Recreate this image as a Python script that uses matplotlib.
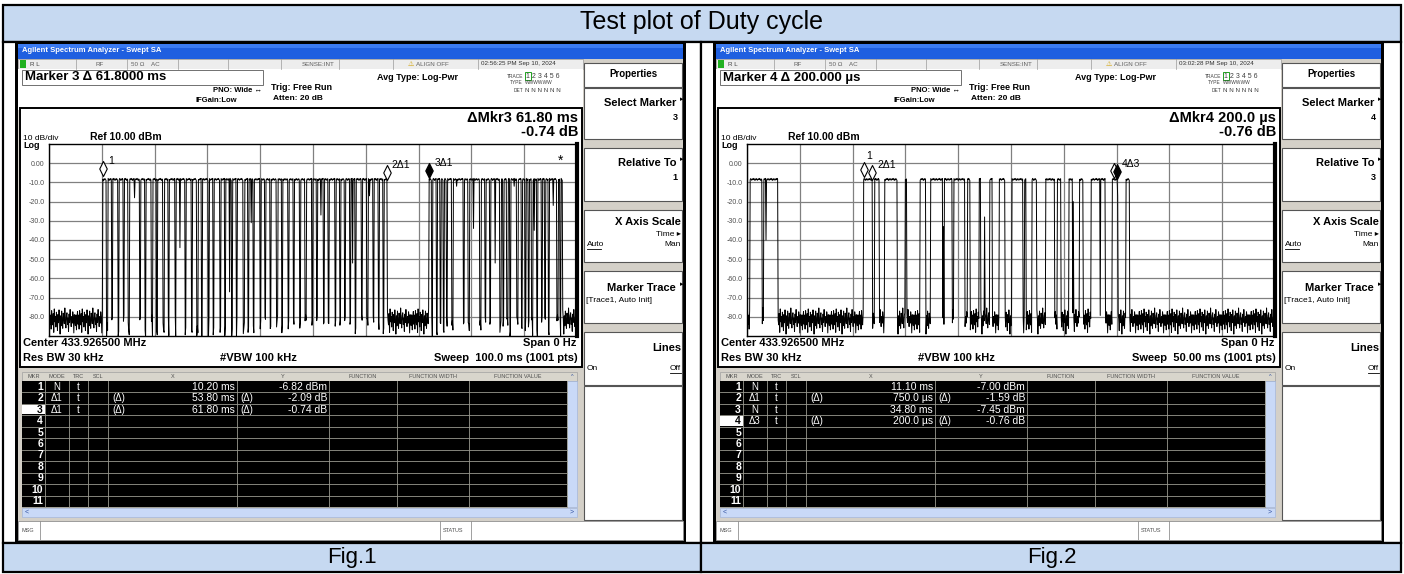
import numpy as np
import matplotlib.pyplot as plt
from matplotlib.patches import Rectangle
from matplotlib.path import Path

plt.rcParams['font.family'] = ['Liberation Sans', 'DejaVu Sans']

W, H = 1404, 574
N_PTS = 1001

# noise floor / pulse top values (dBm), reused along the sweep
noise_db = [-80.5, -77.2, -83.9, -79.1, -86.4, -76.8, -81.7, -84.2, -78.3, -88.1,
            -75.9, -82.6, -79.8, -85.3, -77.6, -80.9, -87.2, -78.8, -83.1, -76.4,
            -81.2, -89.0, -79.5, -84.7, -77.0, -82.1, -86.0, -78.1, -80.2, -83.6,
            -75.4, -81.9, -85.8, -79.3, -77.9, -84.0, -80.7, -87.6, -78.6, -82.9,
            -76.2, -81.4, -85.1, -79.9, -83.3, -77.4, -80.1, -88.4, -78.9, -82.3, -84.6, -79.0, -86.8]
top_db = [-8.1, -8.6, -7.9, -8.4, -9.0, -8.2, -8.7, -8.0, -8.5, -8.9, -8.3]

# Fig.1 : sweep 100 ms
fig1_sweep = 100.0
fig1_highs = [(10.2, 64.0), (72.0, 97.2)]
fig1_dips_thin = [11.9, 13.1, 14.1, 17.2, 18.2, 20.4, 22.6, 23.9,
                  25.8, 27.0, 28.9, 30.2, 31.1, 32.4, 33.3, 34.6, 35.5, 37.7,
                  38.7, 40.0, 40.9, 41.9, 44.1, 45.3, 46.3, 47.5, 49.8, 50.7,
                  52.0, 52.9, 54.2, 55.1, 56.0, 57.0, 58.0, 59.2, 61.4, 62.4, 63.3,
                  72.5, 73.4, 74.1, 74.7, 75.3, 78.5, 82.6, 83.5,
                  86.0, 87.3, 89.5, 90.2, 90.8, 92.4, 93.3, 93.9, 94.6, 96.8]
fig1_dips_thick = [10.9, 15.0, 19.4, 21.6, 28.0, 36.8, 43.1, 48.5, 60.2,
                   76.3, 79.4, 81.6, 85.4, 86.7, 88.6, 91.4, 96.2]
fig1_partial = [(16.2, -18.0), (24.8, -44.0), (34.2, -67.0), (38.3, -31.0), (51.5, -27.0),
                (57.5, -52.0), (60.7, -17.0), (77.2, -12.0), (80.4, -34.0), (84.5, -52.0),
                (88.1, -12.0), (91.9, -35.0), (95.5, -22.0)]
fig1_mk_t = [10.2, 64.0, 72.0]
fig1_mk_db = [-6.82, -8.91, -7.56]
fig1_mk_lbl = ['1', '2Δ1', '3Δ1']
fig1_mk_fill = [False, False, True]
fig1_rows = [('1', 'N', '', '10.20 ms', '', '-6.82 dBm'),
             ('2', 'Δ1', '(Δ)', '53.80 ms', '(Δ)', '-2.09 dB'),
             ('3', 'Δ1', '(Δ)', '61.80 ms', '(Δ)', '-0.74 dB')]

# Fig.2 : sweep 50 ms
fig2_sweep = 50.0
fig2_highs = [(0.3, 1.4), (1.6, 2.9), (11.05, 11.85), (12.1, 12.5), (13.05, 14.2),
              (15.0, 15.1), (16.4, 16.9), (17.4, 18.5), (18.7, 19.4), (19.6, 20.6),
              (20.9, 21.1), (22.0, 22.1), (23.0, 23.2), (23.9, 24.4), (25.1, 26.1),
              (26.3, 26.4), (27.0, 27.4), (28.3, 29.1), (29.4, 29.7), (30.5, 30.8),
              (31.5, 31.8), (32.6, 33.4), (33.5, 33.9), (34.6, 35.05), (35.9, 36.2)]
fig2_partial = [(1.8, -40.0), (18.6, -33.0), (22.5, -28.0), (30.9, -20.0), (35.1, -17.0)]
fig2_mk_t = [11.10, 11.85, 34.80, 35.00]
fig2_mk_db = [-7.00, -8.59, -7.45, -8.21]
fig2_mk_lbl = ['1', '2Δ1', '', '4Δ3']
fig2_mk_fill = [False, False, False, True]
fig2_rows = [('1', 'N', '', '11.10 ms', '', '-7.00 dBm'),
             ('2', 'Δ1', '(Δ)', '750.0 µs', '(Δ)', '-1.59 dB'),
             ('3', 'N', '', '34.80 ms', '', '-7.45 dBm'),
             ('4', 'Δ3', '(Δ)', '200.0 µs', '(Δ)', '-0.76 dB')]

ytick_vals = [0, -10, -20, -30, -40, -50, -60, -70, -80]
ytick_lbls = ['0.00', '-10.0', '-20.0', '-30.0', '-40.0', '-50.0', '-60.0', '-70.0', '-80.0']
tbl_cols = [22, 45, 69, 88, 108, 237, 329, 397, 469, 567, 577]
tbl_head = ['MKR', 'MODE', 'TRC', 'SCL', 'X', 'Y', 'FUNCTION', 'FUNCTION WIDTH', 'FUNCTION VALUE']


def make_trace(sweep, highs, dips_thin, dips_thick, partial):
    t = np.linspace(0, sweep, N_PTS)
    y = np.array([noise_db[i % len(noise_db)] for i in range(N_PTS)])
    for a, b in highs:
        for i in np.where((t >= a - 1e-9) & (t <= b + 1e-9))[0]:
            y[i] = top_db[i % len(top_db)]
    for dl, n in ((dips_thin, 2), (dips_thick, 3)):
        for d in dl:
            i0 = int(round(d / sweep * (N_PTS - 1)))
            for i in range(i0, i0 + n):
                y[i] = noise_db[(i * 7) % len(noise_db)] - 3
    for d, lvl in partial:
        y[int(round(d / sweep * (N_PTS - 1)))] = lvl
    return t, y


fig = plt.figure(figsize=(W / 100, H / 100), dpi=100)
bg = fig.add_axes([0, 0, 1, 1])
bg.set_xlim(0, W)
bg.set_ylim(H, 0)
bg.axis('off')


def rect(x, y, w, h, fc='white', ec='none', lw=0.8, z=1):
    bg.add_patch(Rectangle((x, y), w, h, fc=fc, ec=ec, lw=lw, zorder=z))


def tx(x, y, s, size=7, bold=False, ha='left', color='black', z=5, **kw):
    bg.text(x, y, s, fontsize=size, fontweight='bold' if bold else 'normal',
            ha=ha, va='center', color=color, zorder=z, **kw)


# outer table
rect(3, 5, 1398, 37, fc='#c6d9f1', ec='black', lw=1.6)
tx(702, 22, 'Test plot of Duty cycle', size=18, ha='center')
rect(3, 42, 698, 501, fc='white', ec='black', lw=1.6)
rect(701, 42, 700, 501, fc='white', ec='black', lw=1.6)
rect(3, 543, 698, 29, fc='#c6d9f1', ec='black', lw=1.6)
rect(701, 543, 700, 29, fc='#c6d9f1', ec='black', lw=1.6)
tx(352, 557, 'Fig.1', size=16, ha='center')
tx(1052, 557, 'Fig.2', size=16, ha='center')

diamond = Path([(0, 0), (0.5, 1), (0, 2), (-0.5, 1), (0, 0)],
               [Path.MOVETO, Path.LINETO, Path.LINETO, Path.LINETO, Path.CLOSEPOLY])


def panel(ox, marker_txt, date, dmkr, ddb, sweep_txt, sel, rel, rows, hl_row,
          sweep, t, y, mk_t, mk_db, mk_lbl, mk_fill, star):
    # window frame
    rect(ox + 15, 43, 671, 500, fc='black')
    rect(ox + 18, 44, 665, 496, fc='#d4d0c8')
    rect(ox + 18, 44, 665, 15, fc='#1f5fe0')
    rect(ox + 18, 44, 665, 4, fc='#3b7bf2')
    tx(ox + 22, 51, 'Agilent Spectrum Analyzer - Swept SA', size=5.5, bold=True, color='white')
    # status row
    rect(ox + 18, 59, 565, 10, fc='#ededed', ec='#9a9a9a', lw=0.5)
    for sx in [76, 127, 178, 228, 281, 339, 393, 478]:
        bg.plot([ox + sx, ox + sx], [59, 69], color='#9a9a9a', lw=0.5, zorder=2)
    rect(ox + 20, 60, 6, 8, fc='#20b020')
    tx(ox + 30, 64, 'R L', size=4.5, color='#404040')
    tx(ox + 96, 64, 'RF', size=4.5, color='#606060')
    tx(ox + 131, 64, '50 Ω    AC', size=4.5, color='#606060')
    tx(ox + 335, 64, 'SENSE:INT', size=4.5, color='#606060', ha='right')
    tx(ox + 408, 64, '⚠', size=5, color='#d0a000')
    tx(ox + 416, 64, 'ALIGN OFF', size=4.5, color='#606060')
    tx(ox + 481, 64, date, size=4.5, color='#303030')
    # header
    rect(ox + 18, 69, 565, 41, fc='white')
    rect(ox + 22, 70, 241, 15, fc='white', ec='#707070', lw=0.7)
    tx(ox + 25, 77.5, marker_txt, size=9.5, bold=True)
    tx(ox + 262, 90, 'PNO: Wide ↔', size=5.5, bold=True, ha='right')
    tx(ox + 196, 101, 'IFGain:Low', size=5.5, bold=True)
    tx(ox + 271, 88, 'Trig: Free Run', size=6.5, bold=True)
    tx(ox + 273, 99, 'Atten: 20 dB', size=6, bold=True)
    tx(ox + 377, 77, 'Avg Type: Log-Pwr', size=6.5, bold=True)
    tx(ox + 523, 76, 'TRACE', size=3.5, ha='right', color='#404040')
    tx(ox + 523, 83, 'TYPE', size=3.5, ha='right', color='#404040')
    tx(ox + 523, 90, 'DET', size=3.5, ha='right', color='#404040')
    rect(ox + 525, 72, 6, 8, fc='none', ec='#20a020', lw=0.7, z=3)
    tx(ox + 526, 76, '1 2 3 4 5 6', size=5, color='#404040')
    tx(ox + 525, 83, 'WWWWWW', size=3.5, color='#404040')
    tx(ox + 525, 90, 'N N N N N N', size=4.5, color='#404040')
    # display box
    rect(ox + 20, 108, 562, 259, fc='white', ec='black', lw=1.4)
    tx(ox + 578, 118, dmkr, size=10.5, bold=True, ha='right')
    tx(ox + 578, 132, ddb, size=10.5, bold=True, ha='right')
    tx(ox + 23, 138, '10 dB/div', size=6)
    tx(ox + 90, 137, 'Ref 10.00 dBm', size=7.5, bold=True)
    tx(ox + 23, 146, 'Log', size=6.5, bold=True)
    tx(ox + 23, 343, 'Center 433.926500 MHz', size=8, bold=True)
    tx(ox + 576, 343, 'Span 0 Hz', size=8, bold=True, ha='right')
    tx(ox + 23, 358, 'Res BW 30 kHz', size=8, bold=True)
    tx(ox + 220, 358, '#VBW 100 kHz', size=8, bold=True)
    tx(ox + 578, 358, sweep_txt, size=8, bold=True, ha='right')
    # softkeys
    keys = [(63, 24), (88, 51), (148, 53), (210, 52), (271, 52), (332, 53), (386, 134)]
    for ky, kh in keys:
        rect(ox + 584, ky, 98, kh, fc='white', ec='#555555', lw=0.8)
    tx(ox + 633, 74, 'Properties', size=7, bold=True, ha='center')
    tx(ox + 676, 103, 'Select Marker', size=8, bold=True, ha='right')
    tx(ox + 680, 100, '▸', size=5)
    tx(ox + 678, 117, sel, size=6.5, bold=True, ha='right')
    tx(ox + 676, 163, 'Relative To', size=8, bold=True, ha='right')
    tx(ox + 680, 160, '▸', size=5)
    tx(ox + 678, 177, rel, size=6.5, bold=True, ha='right')
    tx(ox + 681, 222, 'X Axis Scale', size=8, bold=True, ha='right')
    tx(ox + 681, 234, 'Time ▸', size=6, ha='right')
    tx(ox + 587, 245, 'Auto', size=6)
    bg.plot([ox + 587, ox + 601], [249, 249], color='black', lw=0.6, zorder=5)
    tx(ox + 681, 245, 'Man', size=6, ha='right')
    tx(ox + 676, 288, 'Marker Trace', size=8, bold=True, ha='right')
    tx(ox + 680, 285, '▸', size=5)
    tx(ox + 586, 301, '[Trace1, Auto Init]', size=6)
    tx(ox + 681, 348, 'Lines', size=8, bold=True, ha='right')
    tx(ox + 587, 369, 'On', size=6)
    tx(ox + 681, 369, 'Off', size=6, ha='right')
    bg.plot([ox + 670, ox + 681], [373, 373], color='black', lw=0.6, zorder=5)
    # marker table
    rect(ox + tbl_cols[0], 372, tbl_cols[-1] - tbl_cols[0], 9, fc='#d8d5cc', ec='#a0a0a0', lw=0.5)
    for k, hd in enumerate(tbl_head):
        tx(ox + (tbl_cols[k] + tbl_cols[k + 1]) / 2, 376.5, hd, size=4, ha='center', color='#505050')
    row_h = 11.45
    rect(ox + tbl_cols[0], 381, tbl_cols[-2] - tbl_cols[0], row_h * 11, fc='black')
    for r in range(11):
        ry = 381 + r * row_h
        bg.plot([ox + tbl_cols[0], ox + tbl_cols[-2]], [ry + row_h, ry + row_h], color='#9a9a90', lw=0.6, zorder=3)
        if r + 1 == hl_row:
            rect(ox + tbl_cols[0], ry + 1, tbl_cols[1] - tbl_cols[0], row_h - 2, fc='white', z=3)
        tx(ox + 43, ry + row_h / 2, str(r + 1), size=7.5, bold=True, ha='right',
           color='black' if r + 1 == hl_row else 'white')
    for cx in tbl_cols[1:-1]:
        bg.plot([ox + cx, ox + cx], [381, 381 + row_h * 11], color='#9a9a90', lw=0.6, zorder=3)
    for r, (num, mode, xd, xv, yd, yv) in enumerate(rows):
        ry = 381 + r * row_h + row_h / 2
        tx(ox + 57, ry, mode, size=7, ha='center', color='white')
        tx(ox + 78, ry, 't', size=7, ha='center', color='white')
        tx(ox + 112, ry, xd, size=7, color='white')
        tx(ox + 235, ry, xv, size=7.5, ha='right', color='white')
        tx(ox + 240, ry, yd, size=7, color='white')
        tx(ox + 327, ry, yv, size=7.5, ha='right', color='white')
    rect(ox + 567, 381, 10, row_h * 11, fc='#c9d9f7', ec='#9ab0d8', lw=0.4)
    tx(ox + 572, 376.5, '^', size=4, ha='center', color='#3050a0')
    rect(ox + tbl_cols[0], 508, tbl_cols[-1] - tbl_cols[0], 9, fc='#c9d9f7', ec='#9ab0d8', lw=0.4)
    tx(ox + 25, 512.5, '<', size=5, color='#3050a0')
    tx(ox + 570, 512.5, '>', size=5, color='#3050a0')
    # message bar
    rect(ox + 18, 521, 665, 19, fc='white', ec='#909090', lw=0.6)
    bg.plot([ox + 40, ox + 40], [521, 540], color='#909090', lw=0.6, zorder=3)
    bg.plot([ox + 440, ox + 440], [521, 540], color='#909090', lw=0.6, zorder=3)
    bg.plot([ox + 471, ox + 471], [521, 540], color='#909090', lw=0.6, zorder=3)
    tx(ox + 21, 530.5, 'MSG', size=4, color='#505050')
    tx(ox + 443, 530.5, 'STATUS', size=4, color='#505050')

    # trace graticule
    ax = fig.add_axes([(ox + 49) / W, 1 - (144 + 192) / H, 528 / W, 192 / H])
    ax.set_xlim(0, sweep)
    ax.set_ylim(-90, 10)
    ax.set_xticks(np.linspace(0, sweep, 11))
    ax.set_xticklabels([])
    ax.set_yticks(ytick_vals)
    ax.set_yticklabels(ytick_lbls)
    ax.tick_params(length=0, labelsize=5, labelcolor='#505050', pad=3)
    ax.grid(True, color='#808080', lw=0.9)
    for sp in ax.spines.values():
        sp.set_color('black')
        sp.set_linewidth(1.0)
    ax.spines['right'].set_linewidth(3)
    ax.plot(t, y, color='black', lw=0.7, zorder=3)
    for k, (mt, md, ml, mf) in enumerate(zip(mk_t, mk_db, mk_lbl, mk_fill)):
        ax.plot([mt], [md], marker=diamond, ms=21.6, mfc='black' if mf else 'white',
                mec='black', mew=0.8, zorder=5, clip_on=False)
        if ml:
            off = (2, 21) if (ml == '1' and k + 1 < len(mk_t) and mk_t[k + 1] - mt < 2) else (5, 15)
            ax.annotate(ml, (mt, md), xytext=off, textcoords='offset pixels',
                        fontsize=7.5, va='center', zorder=6)
    if star is not None:
        ax.text(star, 1.5, '*', fontsize=10, ha='center', va='center', zorder=6)


t1, y1 = make_trace(fig1_sweep, fig1_highs, fig1_dips_thin, fig1_dips_thick, fig1_partial)
t2, y2 = make_trace(fig2_sweep, fig2_highs, [], [], fig2_partial)

panel(0, 'Marker 3 Δ 61.8000 ms', '02:56:25 PM Sep 10, 2024', 'ΔMkr3 61.80 ms', '-0.74 dB',
      'Sweep  100.0 ms (1001 pts)', '3', '1', fig1_rows, 3,
      fig1_sweep, t1, y1, fig1_mk_t, fig1_mk_db, fig1_mk_lbl, fig1_mk_fill, 96.8)
panel(698, 'Marker 4 Δ 200.000 µs', '03:02:28 PM Sep 10, 2024', 'ΔMkr4 200.0 µs', '-0.76 dB',
      'Sweep  50.00 ms (1001 pts)', '4', '3', fig2_rows, 4,
      fig2_sweep, t2, y2, fig2_mk_t, fig2_mk_db, fig2_mk_lbl, fig2_mk_fill, None)

fig.savefig('out.png', dpi=100)
